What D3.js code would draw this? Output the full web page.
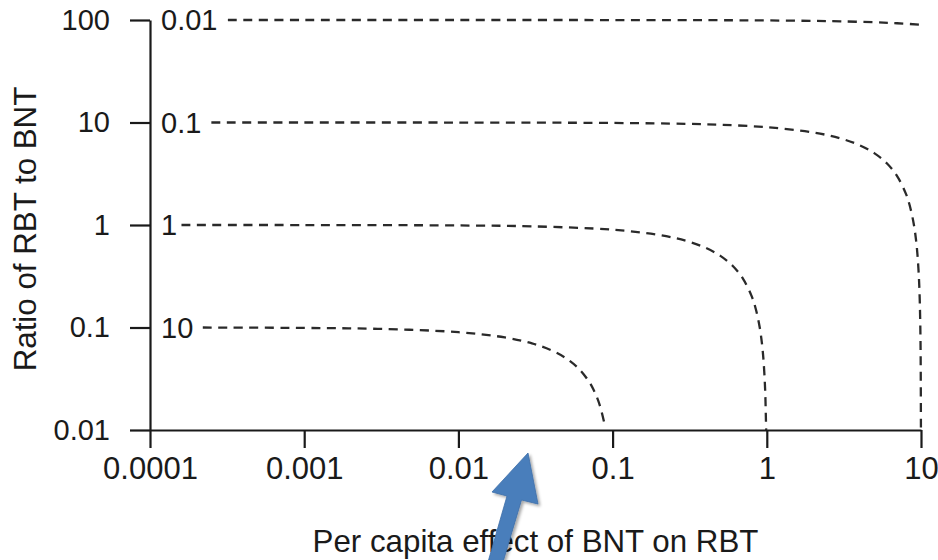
<!DOCTYPE html>
<html>
<head>
<meta charset="utf-8">
<script src="https://cdn.jsdelivr.net/npm/d3@7"></script>
<style>
  html, body { margin: 0; padding: 0; background: #fff; }
  svg { display: block; }
  text { font-family: "Liberation Sans", Arial, Helvetica, sans-serif; fill: #1a1a1a; }
</style>
</head>
<body>
<svg id="chart" width="938" height="560"></svg>
<script>
// Axis ticks
const xTicks = [0.0001, 0.001, 0.01, 0.1, 1, 10];
const xTickLabels = ["0.0001", "0.001", "0.01", "0.1", "1", "10"];
const yTicks = [0.01, 0.1, 1, 10, 100];
const yTickLabels = ["0.01", "0.1", "1", "10", "100"];

// Curve labels (one per dashed isocline)
const curveLabels = ["0.01", "0.1", "1", "10"];

// Per capita effect (x) and ratio (y) for each curve
const effect_001 = [0.00032, 0.001, 0.01, 0.1, 0.5, 1, 2, 3, 5, 7, 10];
const ratio_001  = [100, 100, 99.99, 99.9, 99.5, 99, 98, 97, 95, 93, 90];

const effect_01 = [0.00025, 0.001, 0.01, 0.1, 0.3, 0.5, 1, 2, 3, 4, 5, 6, 7, 8, 8.5, 9, 9.3, 9.5, 9.7, 9.8, 9.9, 9.95, 9.99];
const ratio_01  = [10, 10, 9.99, 9.9, 9.7, 9.5, 9, 8, 7, 6, 5, 4, 3, 2, 1.5, 1, 0.7, 0.5, 0.3, 0.2, 0.1, 0.05, 0.01];

const effect_1 = [0.00016, 0.001, 0.01, 0.03, 0.1, 0.2, 0.3, 0.4, 0.5, 0.6, 0.7, 0.8, 0.85, 0.9, 0.93, 0.95, 0.97, 0.98, 0.99];
const ratio_1  = [1, 0.999, 0.99, 0.97, 0.9, 0.8, 0.7, 0.6, 0.5, 0.4, 0.3, 0.2, 0.15, 0.1, 0.07, 0.05, 0.03, 0.02, 0.01];

const effect_10 = [0.00022, 0.001, 0.003, 0.01, 0.02, 0.03, 0.04, 0.05, 0.06, 0.07, 0.075, 0.08, 0.084, 0.088];
const ratio_10  = [0.1, 0.099, 0.097, 0.09, 0.08, 0.07, 0.06, 0.05, 0.04, 0.03, 0.025, 0.02, 0.016, 0.012];

const curves = [
  { label: curveLabels[0], xs: effect_001, ys: ratio_001 },
  { label: curveLabels[1], xs: effect_01,  ys: ratio_01 },
  { label: curveLabels[2], xs: effect_1,   ys: ratio_1 },
  { label: curveLabels[3], xs: effect_10,  ys: ratio_10 }
];

const svg = d3.select("#chart");

const x = d3.scaleLog().domain([0.0001, 10]).range([150, 921]);
const y = d3.scaleLog().domain([0.01, 100]).range([430, 20]);

// Y axis
const yAxis = d3.axisLeft(y)
  .tickValues(yTicks)
  .tickFormat((d, i) => yTickLabels[i])
  .tickSizeInner(20).tickSizeOuter(0).tickPadding(20);
const gy = svg.append("g").attr("transform", "translate(150,0)").call(yAxis);
gy.selectAll("text").style("font-size", "29px").attr("fill", "#1a1a1a");

// X axis
const xAxis = d3.axisBottom(x)
  .tickValues(xTicks)
  .tickFormat((d, i) => xTickLabels[i])
  .tickSizeInner(18).tickSizeOuter(0).tickPadding(9);
const gx = svg.append("g").attr("transform", "translate(0,430)").call(xAxis);
gx.selectAll("text").style("font-size", "31px").attr("fill", "#1a1a1a");

[gx, gy].forEach(g => {
  g.select(".domain").attr("stroke", "#1a1a1a").attr("stroke-width", 2.2);
  g.selectAll(".tick line").attr("stroke", "#1a1a1a").attr("stroke-width", 2.2);
});

// Dashed curves
const line = d3.line()
  .x(d => x(d[0]))
  .y(d => y(d[1]))
  .curve(d3.curveCatmullRom.alpha(0.5));

svg.append("g").selectAll("path")
  .data(curves)
  .join("path")
  .attr("d", c => line(c.xs.map((v, i) => [v, c.ys[i]])))
  .attr("fill", "none")
  .attr("stroke", "#2a2a2a")
  .attr("stroke-width", 2.3)
  .attr("stroke-dasharray", "9,6.5");

// Curve labels at the left end of each curve
svg.append("g").selectAll("text")
  .data(curves)
  .join("text")
  .attr("x", 161)
  .attr("y", c => y(c.ys[0]))
  .attr("dy", "0.36em")
  .style("font-size", "29px")
  .text(c => c.label);

// Axis titles
svg.append("text")
  .attr("x", (313 + 758) / 2)
  .attr("y", 552)
  .attr("text-anchor", "middle")
  .style("font-size", "31.3px")
  .text("Per capita effect of BNT on RBT");

svg.append("text")
  .attr("transform", "translate(36,229) rotate(-90)")
  .attr("text-anchor", "middle")
  .style("font-size", "31.3px")
  .text("Ratio of RBT to BNT");

// Pointer arrow
const defs = svg.append("defs");
const f = defs.append("filter").attr("id", "shadow").attr("x", "-20%").attr("y", "-20%").attr("width", "160%").attr("height", "160%");
f.append("feDropShadow").attr("dx", 2).attr("dy", 2).attr("stdDeviation", 1.5).attr("flood-color", "#000").attr("flood-opacity", 0.35);

svg.append("path")
  .attr("d", "M488,562 L507,496 L492,492 L528,453 L538,504 L521.5,500 L503,562 Z")
  .attr("fill", "#4a7ebb")
  .attr("stroke", "#3e6ea8")
  .attr("stroke-width", 0.8)
  .attr("filter", "url(#shadow)");
</script>
</body>
</html>
